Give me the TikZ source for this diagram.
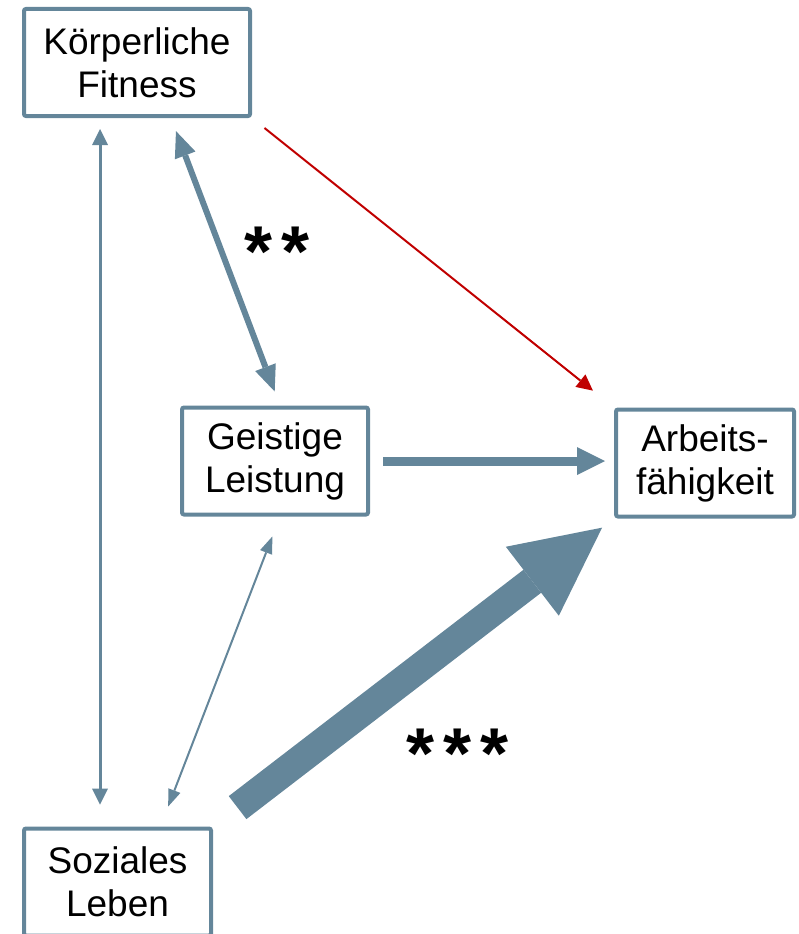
\documentclass[tikz,border=0pt]{standalone}
\usepackage{fontspec}
\setmainfont{Liberation Sans}
\usetikzlibrary{arrows.meta}
\definecolor{steel}{RGB}{100,134,154}
\definecolor{darkred}{RGB}{192,0,0}

\begin{document}
\begin{tikzpicture}[x=1pt,y=-1pt,
    factor/.style={draw=steel, line width=4pt, rounded corners=2pt,
      align=center, inner sep=0pt, minimum width=#1, minimum height=107pt,
      font=\fontsize{37}{43}\selectfont},
    factor/.default=186pt,
    link/.style={draw=#1, line width=2pt},
    link/.default=steel,
    stars/.style={font=\fontsize{72}{72}\selectfont\bfseries},
    thin/.tip={Triangle[length=17pt,width=13pt,line width=0pt]},
    small/.tip={Triangle[length=16pt,width=16pt,line width=0pt]},
    mid/.tip={Triangle[length=26pt,width=22pt,line width=0pt]},
    wide/.tip={Triangle[length=28pt,width=28pt,line width=0pt]},
    huge/.tip={Triangle[length=88pt,width=87pt,line width=0pt]}]
  \def\sp{\kern9pt}
  \useasboundingbox (0,0) rectangle (799,934);
  \node[factor=226pt] (fit)   at (137,62.5) {Körperliche\\Fitness};
  \node[factor]       (geist) at (275,461)  {Geistige\\Leistung};
  \node[factor=178pt] (arb)   at (705,463)  {Arbeits-\\fähigkeit};
  \node[factor=187pt] (soz)   at (117.5,882) {Soziales\\Leben};
  \draw[link, line width=3pt, small-small, shorten <=11pt, shorten >=22pt]
    ([xshift=78pt]fit.south west) -- ([xshift=78pt]soz.north west);
  \draw[link, line width=6pt, mid-mid, shorten <=14pt, shorten >=15pt]
    ([xshift=34pt]fit.south) -- ([xshift=5pt]geist.north);
  \draw[link=darkred, -small, shorten <=16pt, shorten >=27pt]
    (fit.south east) -- (arb.north west);
  \draw[link, line width=9pt, -wide, shorten <=13pt, shorten >=9pt]
    (geist.east) -- (geist.east -| arb.west);
  \draw[link, thin-thin, shorten <=21.5pt, shorten >=21.5pt]
    ([xshift=5pt]geist.south) -- ([xshift=43pt]soz.north);
  \draw[link, line width=29pt, -huge, shorten <=31pt, shorten >=15pt]
    (soz.north east) -- (arb.south west);
  \node[stars] (p2) at (277.5,252) {*\sp*};
  \node[stars] (p3) at (457.5,754) {*\sp*\sp*};
\end{tikzpicture}
\end{document}
